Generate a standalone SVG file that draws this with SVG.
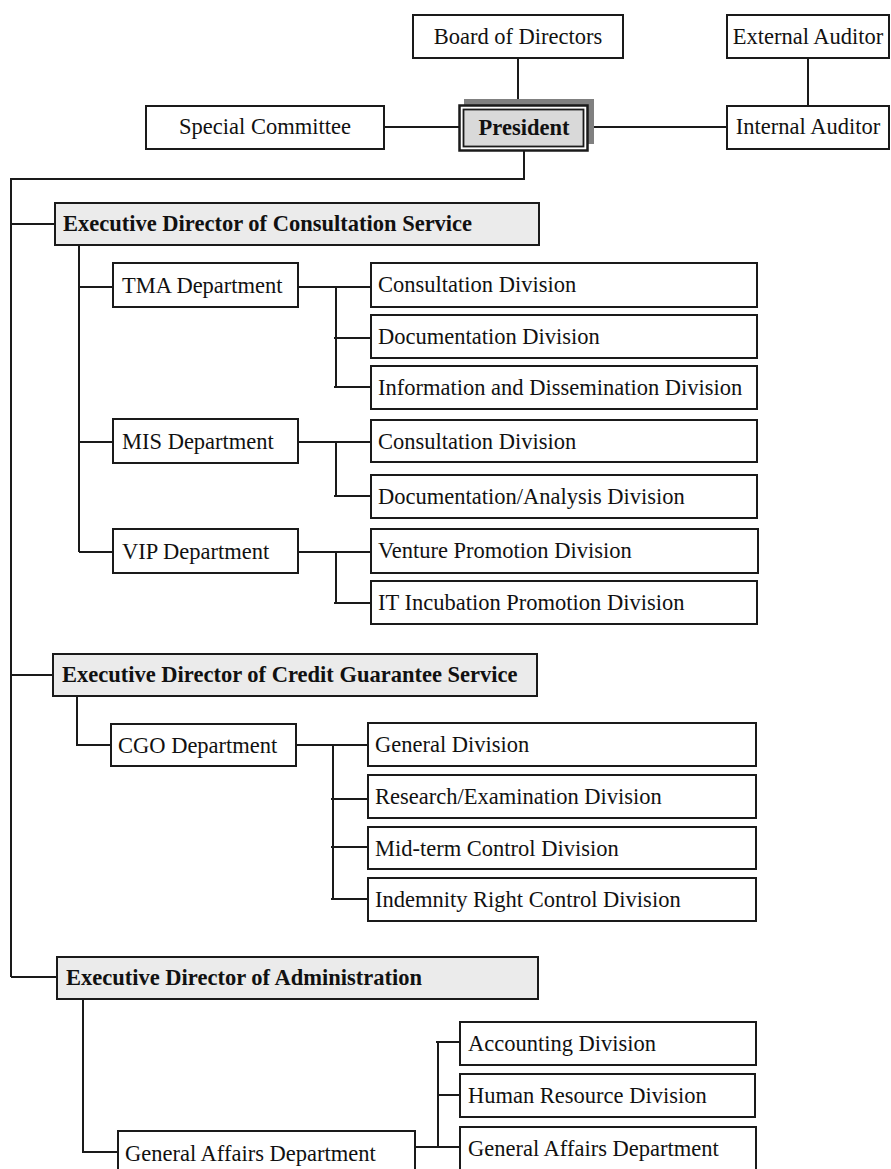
<svg xmlns="http://www.w3.org/2000/svg" width="891" height="1169" viewBox="0 0 891 1169">
<style>
.box{fill:#fff;stroke:#1a1a1a;stroke-width:2}
.exec{fill:#ebebeb;stroke:#1a1a1a;stroke-width:2}
.t{font-family:"Liberation Serif","Times New Roman",serif;font-size:22.5px;fill:#111}
.c{text-anchor:middle}
.b{font-weight:bold}
.ln{stroke:#1a1a1a;stroke-width:2;fill:none}
</style>
<rect width="891" height="1169" fill="#fff"/>
<g id="connectors" class="ln">
<path d="M518 58V105M808 58V106M384 127H459M588 127H727"/>
<path d="M524 151V179H11V977"/>
<path d="M11 224H55M79 245V552M79 287H113M79 442H113M79 552H113"/>
<path d="M298 287H371M336 287V387M334 338H371M334 387H371"/>
<path d="M298 442H371M336 442V496M334 496H371"/>
<path d="M298 552H371M336 552V603M334 603H371"/>
<path d="M11 675H53M77 696V745H111M296 745H368M333 745V899M331 799H368M331 847H368M331 899H368"/>
<path d="M11 977H57M83 999V1152H118M412 1147H460M438 1042V1147M436 1042H460M438 1095H460"/>
</g>
<g id="board"><rect class="box" x="413" y="15" width="210" height="43"/><text class="t c" x="518" y="44">Board of Directors</text></g>
<g id="external-auditor"><rect class="box" x="727" y="15" width="162" height="43"/><text class="t c" x="808" y="44">External Auditor</text></g>
<g id="special-committee"><rect class="box" x="146" y="106" width="238" height="43"/><text class="t c" x="265" y="134">Special Committee</text></g>
<g id="internal-auditor"><rect class="box" x="727" y="106" width="162" height="43"/><text class="t c" x="808" y="134">Internal Auditor</text></g>
<g id="president">
<rect x="464" y="99" width="130" height="45" fill="#808080"/>
<rect x="459.5" y="105.5" width="128" height="45" fill="#fff" stroke="#1a1a1a" stroke-width="2.5"/>
<rect x="463.5" y="109.5" width="120" height="37" fill="#d9d9d9" stroke="#1a1a1a" stroke-width="1.8"/>
<text class="t c b" x="524" y="135">President</text>
</g>
<g id="ed-consultation"><rect class="exec" x="55" y="203" width="484" height="42"/><text class="t b" x="63" y="231">Executive Director of Consultation Service</text></g>
<g id="tma"><rect class="box" x="113" y="263" width="185" height="44"/><text class="t" x="122" y="293">TMA Department</text></g>
<g id="mis"><rect class="box" x="113" y="419" width="185" height="44"/><text class="t" x="122" y="449">MIS Department</text></g>
<g id="vip"><rect class="box" x="113" y="529" width="185" height="44"/><text class="t" x="122" y="559">VIP Department</text></g>
<g id="tma-consultation"><rect class="box" x="371" y="263" width="386" height="44"/><text class="t" x="378" y="292">Consultation Division</text></g>
<g id="tma-documentation"><rect class="box" x="371" y="315" width="386" height="43"/><text class="t" x="378" y="344">Documentation Division</text></g>
<g id="tma-information"><rect class="box" x="371" y="366" width="386" height="43"/><text class="t" x="378" y="395">Information and Dissemination Division</text></g>
<g id="mis-consultation"><rect class="box" x="371" y="420" width="386" height="42"/><text class="t" x="378" y="449">Consultation Division</text></g>
<g id="mis-documentation"><rect class="box" x="371" y="475" width="386" height="43"/><text class="t" x="378" y="504">Documentation/Analysis Division</text></g>
<g id="vip-venture"><rect class="box" x="371" y="529" width="387" height="44"/><text class="t" x="378" y="558">Venture Promotion Division</text></g>
<g id="vip-it"><rect class="box" x="371" y="581" width="386" height="43"/><text class="t" x="378" y="610">IT Incubation Promotion Division</text></g>
<g id="ed-credit"><rect class="exec" x="53" y="654" width="484" height="42"/><text class="t b" x="62" y="682">Executive Director of Credit Guarantee Service</text></g>
<g id="cgo"><rect class="box" x="111" y="724" width="185" height="42"/><text class="t" x="118" y="753">CGO Department</text></g>
<g id="cgo-general"><rect class="box" x="368" y="723" width="388" height="43"/><text class="t" x="375" y="752">General Division</text></g>
<g id="cgo-research"><rect class="box" x="368" y="775" width="388" height="43"/><text class="t" x="375" y="804">Research/Examination Division</text></g>
<g id="cgo-midterm"><rect class="box" x="368" y="827" width="388" height="42"/><text class="t" x="375" y="856">Mid-term Control Division</text></g>
<g id="cgo-indemnity"><rect class="box" x="368" y="878" width="388" height="43"/><text class="t" x="375" y="907">Indemnity Right Control Division</text></g>
<g id="ed-admin"><rect class="exec" x="57" y="957" width="481" height="42"/><text class="t b" x="66" y="985">Executive Director of Administration</text></g>
<g id="general-affairs-dept"><rect class="box" x="118" y="1131" width="297" height="50"/><text class="t" x="125" y="1161">General Affairs Department</text></g>
<g id="accounting"><rect class="box" x="460" y="1022" width="296" height="43"/><text class="t" x="468" y="1051">Accounting Division</text></g>
<g id="human-resource"><rect class="box" x="460" y="1074" width="295" height="43"/><text class="t" x="468" y="1103">Human Resource Division</text></g>
<g id="general-affairs-div"><rect class="box" x="460" y="1127" width="296" height="50"/><text class="t" x="468" y="1156">General Affairs Department</text></g>
</svg>
